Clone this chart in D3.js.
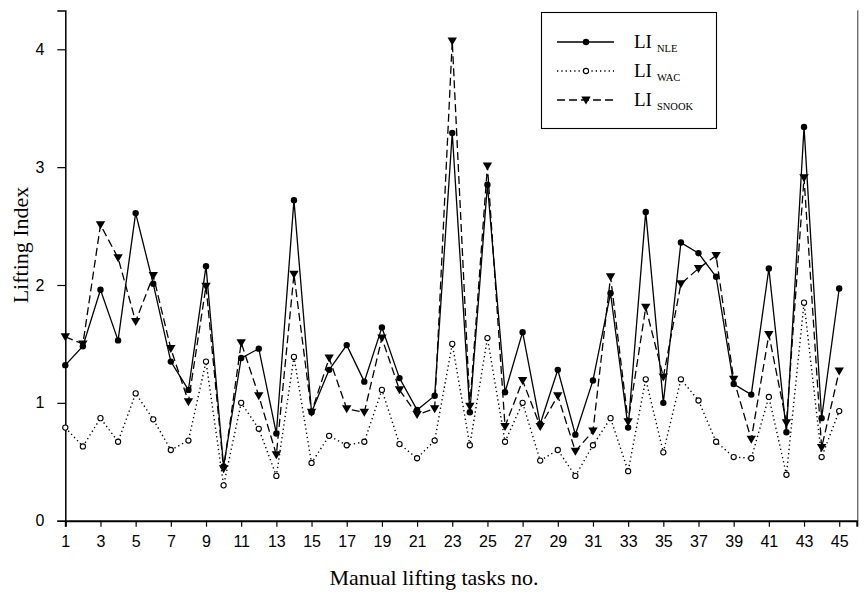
<!DOCTYPE html>
<html><head><meta charset="utf-8">
<script src="https://cdn.jsdelivr.net/npm/d3@7"></script>
<style>body{margin:0;background:#fff}svg{display:block}</style>
</head><body><svg id="c" width="866" height="608"></svg>
<script>
const tasks = d3.range(1, 46);
const liNLE = [1.32,1.48,1.96,1.53,2.61,2.01,1.35,1.11,2.16,0.46,1.38,1.46,0.74,2.72,0.92,1.28,1.49,1.18,1.64,1.21,0.94,1.06,3.29,0.92,2.85,1.09,1.60,0.82,1.28,0.73,1.19,1.93,0.79,2.62,1.00,2.36,2.27,2.07,1.16,1.07,2.14,0.75,3.34,0.87,1.97];
const liWAC = [0.79,0.63,0.87,0.67,1.08,0.86,0.60,0.68,1.35,0.30,1.00,0.78,0.38,1.39,0.49,0.72,0.64,0.67,1.11,0.65,0.53,0.68,1.50,0.64,1.55,0.67,1.00,0.51,0.60,0.38,0.64,0.87,0.42,1.20,0.58,1.20,1.02,0.67,0.54,0.53,1.05,0.39,1.85,0.54,0.93];
const liSNOOK = [1.56,1.50,2.51,2.23,1.69,2.08,1.46,1.01,1.99,0.44,1.51,1.06,0.56,2.09,0.92,1.38,0.95,0.92,1.55,1.11,0.90,0.95,4.07,0.97,3.01,0.80,1.19,0.80,1.06,0.59,0.76,2.07,0.84,1.81,1.22,2.01,2.14,2.25,1.20,0.69,1.58,0.83,2.91,0.62,1.27];
const xTickValues = d3.range(1, 46, 2);
const yTickValues = [0, 1, 2, 3, 4];
const seriesNames = ["NLE", "WAC", "SNOOK"];

const svg = d3.select("#c");
const x = d3.scaleLinear().domain([1, 46]).range([65.3, 856.8]);
const y = d3.scaleLinear().domain([0, 4.33]).range([520.7, 10.4]);

const narrow = "'Liberation Sans Narrow','Arial Narrow','Liberation Sans',Arial,sans-serif";
const serif = "'Liberation Serif','Times New Roman',serif";

// axes
const xAxis = svg.append("g").attr("transform", `translate(0,${y(0)})`)
  .call(d3.axisBottom(x).tickValues(xTickValues).tickFormat(d3.format("d")).tickSizeOuter(0).tickSize(6).tickPadding(9));
xAxis.select(".domain").attr("stroke", "#000").attr("stroke-width", 2);
xAxis.selectAll(".tick line").attr("stroke-width", 1.2);
xAxis.selectAll("text").attr("font-family", narrow).attr("font-size", 16).attr("fill", "#000");

const yAxis = svg.append("g").attr("transform", `translate(${x(1)},0)`)
  .call(d3.axisLeft(y).tickValues(yTickValues).tickFormat(d3.format("d")).tickSizeOuter(0).tickSize(8).tickPadding(13));
yAxis.select(".domain").attr("stroke", "#000").attr("stroke-width", 1.5);
yAxis.selectAll(".tick line").attr("stroke-width", 1.2);
yAxis.selectAll("text").attr("font-family", narrow).attr("font-size", 16).attr("fill", "#000");

// right border
svg.append("line").attr("x1", x(46) + 1).attr("x2", x(46) + 1).attr("y1", y(4.33)).attr("y2", y(0))
  .attr("stroke", "#333").attr("stroke-width", 1);

const line = d3.line().x((d, i) => x(tasks[i])).y(d => y(d));

const styles = {
  NLE: {data: liNLE, dash: null},
  WAC: {data: liWAC, dash: "1.3,3"},
  SNOOK: {data: liSNOOK, dash: "8,4"}
};

function marker(g, name, cx, cy) {
  if (name === "NLE") {
    g.append("circle").attr("cx", cx).attr("cy", cy).attr("r", 3.2).attr("fill", "#000");
  } else if (name === "WAC") {
    g.append("circle").attr("cx", cx).attr("cy", cy).attr("r", 2.6).attr("fill", "#fff").attr("stroke", "#000").attr("stroke-width", 1.1);
  } else {
    const s = 4.7;
    g.append("path").attr("d", `M${cx - s},${cy - s * 0.75}L${cx + s},${cy - s * 0.75}L${cx},${cy + s * 0.95}Z`).attr("fill", "#000");
  }
}

["WAC", "SNOOK", "NLE"].forEach(name => {
  const st = styles[name];
  svg.append("path").datum(st.data).attr("d", line).attr("fill", "none")
    .attr("stroke", "#000").attr("stroke-width", name === "WAC" ? 1.4 : 1.3)
    .attr("stroke-dasharray", st.dash);
  const g = svg.append("g");
  st.data.forEach((v, i) => marker(g, name, x(tasks[i]), y(v)));
});

// legend
const lg = svg.append("g");
lg.append("rect").attr("x", 541.5).attr("y", 12.5).attr("width", 175).attr("height", 116)
  .attr("fill", "#fff").attr("stroke", "#000").attr("stroke-width", 1.1);
seriesNames.forEach((name, i) => {
  const cy = 42 + i * 29;
  lg.append("line").attr("x1", 557).attr("x2", 614).attr("y1", cy).attr("y2", cy)
    .attr("stroke", "#000").attr("stroke-width", name === "WAC" ? 1.4 : 1.3)
    .attr("stroke-dasharray", styles[name].dash);
  marker(lg, name, 586, cy);
  const t = lg.append("text").attr("x", 634).attr("y", cy + 6).attr("font-family", serif).attr("font-size", 19).attr("fill", "#000");
  t.append("tspan").text("LI");
  t.append("tspan").attr("dx", 5).attr("dy", 4).attr("font-size", 10.5).text(name);
});

// titles
svg.append("text").attr("transform", `translate(28,${245}) rotate(-90)`).attr("text-anchor", "middle")
  .attr("font-family", serif).attr("font-size", 22).attr("fill", "#000").text("Lifting Index");
svg.append("text").attr("x", 434).attr("y", 585).attr("text-anchor", "middle")
  .attr("font-family", serif).attr("font-size", 22).attr("fill", "#000").text("Manual lifting tasks no.");
</script></body></html>
